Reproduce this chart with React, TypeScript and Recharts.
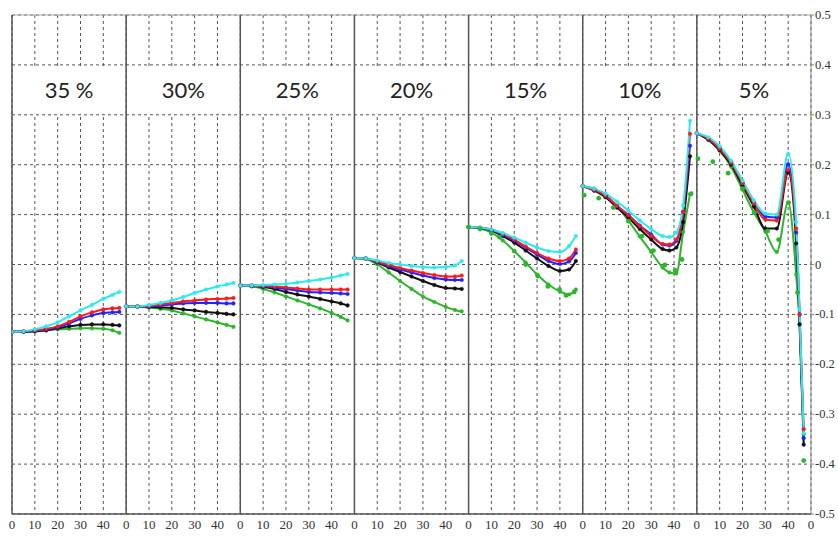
import React from "react";
import {
  ComposedChart,
  Line,
  XAxis,
  YAxis,
  CartesianGrid,
  ReferenceLine,
  ReferenceArea,
} from "recharts";

// one panel per percentage, each panel spans 50 units on the shared x axis
const PANEL_LABELS = ["35 %", "30%", "25%", "20%", "15%", "10%", "5%"];
const PANEL_SPAN = 50;

const X_SMOOTH = [0, 5, 10, 15, 20, 25, 30, 35, 40, 44, 47];
const X_10 = [0, 5, 10, 15, 20, 25, 30, 35, 38, 41, 44, 47];
const X_5 = [0, 5, 10, 15, 20, 25, 30, 35, 40, 43.5, 45, 46.8];
const PANEL_X = [X_SMOOTH, X_SMOOTH, X_SMOOTH, X_SMOOTH, X_SMOOTH, X_10, X_5];

const CYAN = [
  [-0.135, -0.134, -0.13, -0.124, -0.116, -0.104, -0.092, -0.081, -0.069, -0.061, -0.055],
  [-0.084, -0.084, -0.081, -0.077, -0.072, -0.065, -0.057, -0.05, -0.044, -0.04, -0.037],
  [-0.042, -0.042, -0.041, -0.04, -0.039, -0.036, -0.033, -0.03, -0.026, -0.022, -0.019],
  [0.013, 0.012, 0.008, 0.003, 0.0, -0.003, -0.005, -0.006, -0.005, -0.002, 0.007],
  [0.075, 0.074, 0.07, 0.063, 0.054, 0.044, 0.034, 0.027, 0.025, 0.037, 0.057],
  [0.157, 0.152, 0.142, 0.126, 0.108, 0.088, 0.071, 0.057, 0.055, 0.064, 0.118, 0.288],
  [0.263, 0.255, 0.237, 0.208, 0.168, 0.128, 0.102, 0.1, 0.222, 0.085, -0.09, -0.338],
];

const RED = [
  [-0.135, -0.134, -0.132, -0.129, -0.124, -0.115, -0.104, -0.096, -0.09, -0.088, -0.087],
  [-0.084, -0.084, -0.083, -0.08, -0.077, -0.074, -0.072, -0.07, -0.069, -0.068, -0.067],
  [-0.042, -0.042, -0.043, -0.044, -0.046, -0.048, -0.05, -0.05, -0.05, -0.05, -0.05],
  [0.013, 0.012, 0.006, -0.001, -0.007, -0.012, -0.017, -0.021, -0.024, -0.024, -0.022],
  [0.075, 0.074, 0.07, 0.061, 0.05, 0.036, 0.023, 0.012, 0.007, 0.012, 0.03],
  [0.157, 0.15, 0.138, 0.118, 0.099, 0.077, 0.057, 0.041, 0.04, 0.05, 0.105, 0.262],
  [0.263, 0.252, 0.232, 0.204, 0.163, 0.122, 0.09, 0.088, 0.19, 0.072, -0.1, -0.33],
];

const BLUE = [
  [-0.135, -0.134, -0.133, -0.13, -0.126, -0.118, -0.109, -0.102, -0.097, -0.096, -0.095],
  [-0.084, -0.084, -0.084, -0.082, -0.08, -0.078, -0.077, -0.077, -0.077, -0.078, -0.078],
  [-0.042, -0.042, -0.044, -0.046, -0.049, -0.052, -0.055, -0.056, -0.057, -0.058, -0.059],
  [0.013, 0.012, 0.005, -0.003, -0.01, -0.016, -0.022, -0.027, -0.03, -0.031, -0.031],
  [0.075, 0.073, 0.069, 0.059, 0.048, 0.034, 0.02, 0.007, 0.001, 0.006, 0.023],
  [0.157, 0.15, 0.138, 0.117, 0.099, 0.078, 0.06, 0.04, 0.038, 0.047, 0.105, 0.238],
  [0.263, 0.252, 0.232, 0.205, 0.164, 0.124, 0.096, 0.094, 0.201, 0.064, -0.1, -0.348],
];

const BLACK = [
  [-0.135, -0.135, -0.134, -0.132, -0.128, -0.124, -0.121, -0.12, -0.12, -0.121, -0.122],
  [-0.084, -0.084, -0.085, -0.086, -0.087, -0.09, -0.092, -0.095, -0.097, -0.099, -0.1],
  [-0.042, -0.043, -0.045, -0.049, -0.055, -0.06, -0.064, -0.069, -0.074, -0.078, -0.082],
  [0.013, 0.012, 0.004, -0.006, -0.015, -0.024, -0.033, -0.041, -0.047, -0.048, -0.049],
  [0.075, 0.073, 0.068, 0.057, 0.044, 0.028, 0.012, -0.003, -0.013, -0.01, 0.007],
  [0.157, 0.148, 0.135, 0.114, 0.094, 0.071, 0.05, 0.031, 0.028, 0.034, 0.085, 0.217],
  [0.263, 0.25, 0.229, 0.2, 0.158, 0.116, 0.072, 0.072, 0.184, 0.042, -0.12, -0.361],
];

const GREEN = [
  [-0.135, -0.135, -0.134, -0.132, -0.13, -0.129, -0.128, -0.128, -0.129, -0.132, -0.137],
  [-0.084, -0.085, -0.086, -0.089, -0.092, -0.098, -0.104, -0.11, -0.116, -0.121, -0.125],
  [-0.042, -0.044, -0.049, -0.056, -0.064, -0.072, -0.08, -0.088, -0.097, -0.105, -0.112],
  [0.013, 0.011, 0.0, -0.016, -0.033, -0.049, -0.064, -0.075, -0.085, -0.091, -0.094],
  [0.075, 0.072, 0.064, 0.048, 0.027, 0.004, -0.02, -0.04, -0.054, -0.06, -0.05],
  [0.157, 0.152, 0.135, 0.117, 0.088, 0.056, 0.025, -0.006, -0.016, -0.018, 0.065, 0.141],
  [0.263, 0.25, 0.228, 0.196, 0.15, 0.104, 0.066, 0.025, 0.124, -0.02, -0.12, -0.34],
];

// separate green markers (panels 15%, 10%, 5%), off the green line
const GREEN_DOT_PANELS = [4, 5, 6];
const GREEN_DOT_X = [
  [0, 5, 10, 13.5, 20, 25, 30.3, 34.7, 39.8, 42.7, 46.3],
  [0.6, 7, 13.4, 20, 26, 31, 36, 40.5, 43.5, 47.5],
  [0.5, 7, 13.7, 20, 25.3, 31, 35.8, 40.2, 44.1, 46.8],
];
const GREEN_DOT_Y = [
  [0.075, 0.071, 0.062, 0.055, 0.027, 0.0, -0.023, -0.044, -0.05, -0.062, -0.055],
  [0.139, 0.133, 0.114, 0.087, 0.057, 0.028, -0.001, -0.012, 0.01, 0.142],
  [0.212, 0.206, 0.183, 0.152, 0.104, 0.067, 0.05, 0.124, -0.056, -0.393],
];

const X_TICKS = [
  0, 10, 20, 30, 40, 50, 60, 70, 80, 90, 100, 110, 120, 130, 140, 150, 160, 170,
  180, 190, 200, 210, 220, 230, 240, 250, 260, 270, 280, 290, 300, 310, 320, 330,
  340, 350,
];
const Y_TICKS = [-0.5, -0.4, -0.3, -0.2, -0.1, 0, 0.1, 0.2, 0.3, 0.4, 0.5];
const PANEL_EDGES = [50, 100, 150, 200, 250, 300];

const SERIES = [
  { name: "green", color: "#2db52d", values: GREEN },
  { name: "black", color: "#111111", values: BLACK },
  { name: "blue", color: "#2222ff", values: BLUE },
  { name: "red", color: "#ff1a1a", values: RED },
  { name: "cyan", color: "#2ee8f2", values: CYAN },
];

const TICK_FONT = "'Liberation Serif', serif";

const XTick = (props: any) => {
  const { x, y, payload } = props;
  return (
    <text
      x={x}
      y={y + 13}
      textAnchor="middle"
      fontFamily={TICK_FONT}
      fontSize={13}
      fill="#333"
    >
      {String(payload.value % PANEL_SPAN)}
    </text>
  );
};

const YTick = (props: any) => {
  const { x, y, payload } = props;
  const v = payload.value;
  return (
    <text
      x={x + 1}
      y={y + 4}
      textAnchor="start"
      fontFamily={TICK_FONT}
      fontSize={12.5}
      fill="#333"
    >
      {v === 0 ? "0" : v.toFixed(1)}
    </text>
  );
};

export default function App() {
  return (
    <div
      style={{
        position: "absolute",
        left: 0,
        top: 0,
        width: 838,
        height: 539,
        overflow: "hidden",
        background: "#fff",
      }}
    >
      <ComposedChart
        width={838}
        height={539}
        margin={{ top: 15, right: 0, bottom: 0, left: 12 }}
      >
        <CartesianGrid strokeDasharray="3 3" stroke="#555" />
        <XAxis
          type="number"
          dataKey="x"
          domain={[0, 350]}
          ticks={X_TICKS}
          interval={0}
          height={25}
          tickSize={0}
          tick={<XTick />}
          axisLine={{ stroke: "#555", strokeWidth: 1.5 }}
          allowDataOverflow
        />
        <YAxis
          type="number"
          dataKey="y"
          orientation="right"
          domain={[-0.5, 0.5]}
          ticks={Y_TICKS}
          interval={0}
          width={27}
          tickSize={3}
          tickMargin={0}
          tick={<YTick />}
          axisLine={{ stroke: "#888" }}
          tickLine={{ stroke: "#888" }}
          allowDataOverflow
        />
        {PANEL_LABELS.map((label, p) => (
          <ReferenceArea
            key={"band" + p}
            x1={p * PANEL_SPAN + 0.6}
            x2={p * PANEL_SPAN + PANEL_SPAN - 0.6}
            y1={0.302}
            y2={0.398}
            fill="#fff"
            fillOpacity={1}
            stroke="none"
            label={{
              value: label,
              position: "center",
              fontFamily: "Lato",
              fontSize: 22,
              fill: "#222",
            }}
          />
        ))}
        <ReferenceLine y={0.5} stroke="#aaa" />
        <ReferenceLine x={0} stroke="#555" strokeWidth={1.5} />
        {PANEL_EDGES.map((x) => (
          <ReferenceLine key={"edge" + x} x={x} stroke="#555" strokeWidth={1.5} />
        ))}
        {PANEL_X.map((xs, p) =>
          SERIES.map((s) => (
            <Line
              key={s.name + p}
              data={xs.map((x, i) => ({ x: p * PANEL_SPAN + x, y: s.values[p][i] }))}
              dataKey="y"
              type="monotone"
              stroke={s.color}
              strokeWidth={2}
              dot={{ r: 1.8, fill: s.color, stroke: s.color, strokeWidth: 0.5 }}
              activeDot={false}
              isAnimationActive={false}
            />
          ))
        )}
        {GREEN_DOT_PANELS.map((p, k) => (
          <Line
            key={"gdots" + p}
            data={GREEN_DOT_X[k].map((x, i) => ({
              x: p * PANEL_SPAN + x,
              y: GREEN_DOT_Y[k][i],
            }))}
            dataKey="y"
            stroke="none"
            dot={{ r: 2.4, fill: "#2db52d", stroke: "#2db52d", strokeWidth: 0 }}
            activeDot={false}
            isAnimationActive={false}
          />
        ))}
      </ComposedChart>
    </div>
  );
}
